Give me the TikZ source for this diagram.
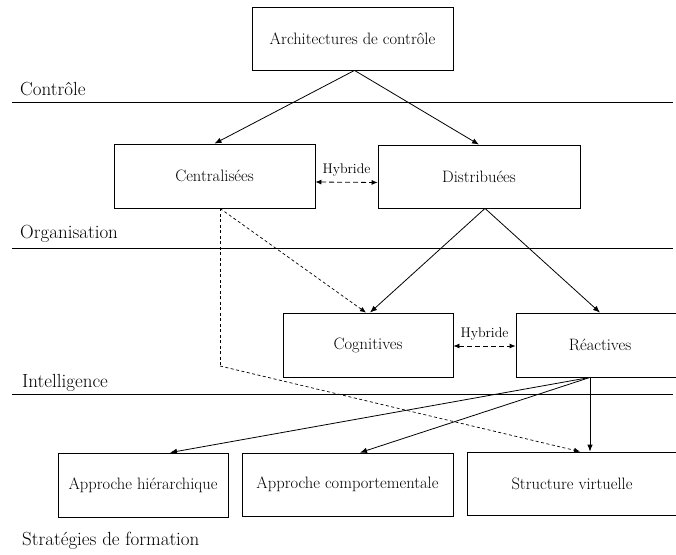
\documentclass[tikz,border=0pt]{standalone}
\usepackage{fontspec}
\usetikzlibrary{calc, arrows.meta}

\tikzset{
	boxnode/.style={draw, line width=0.8pt, shape=rectangle, inner sep=0pt, font=\fontsize{16.5}{19}\selectfont},
	levelname/.style={anchor=base west, inner sep=0pt, font=\fontsize{19}{22}\selectfont},
	hybridtag/.style={font=\fontsize{14}{16}\selectfont, inner sep=2pt},
	wire/.style={line width=0.8pt, -{Latex[length=7pt, width=5.5pt]}},
	hybridwire/.style={line width=0.8pt, dash pattern={on 5pt off 3pt}, {Latex[length=6pt, width=5pt]}-{Latex[length=6pt, width=5pt]}},
	thinwire/.style={line width=0.7pt, dash pattern={on 3pt off 2.5pt}}
}

\begin{document}
\begin{tikzpicture}[x=1pt, y=-1pt]
	\useasboundingbox (0, 0) rectangle (676, 554);
	% Paths, nodes and wires:
	\draw[line width=0.8pt] (12, 102) -- (673, 102);
	\draw[line width=0.8pt] (12, 248) -- (673, 248);
	\draw[line width=0.8pt] (12, 394) -- (673, 394);
	\node[levelname] (ctrl) at (20, 95){Contrôle};
	\node[levelname] (orga) at (20, 238){Organisation};
	\node[levelname] (intel) at (22, 387){Intelligence};
	\node[levelname] (strat) at (22, 545){Stratégies de formation};
	\node[boxnode, minimum width=201pt, minimum height=63pt] (arch) at (352.5, 38.5){Architectures de contrôle};
	\node[boxnode, minimum width=201pt, minimum height=64pt] (centr) at (214.5, 176){Centralisées};
	\node[boxnode, minimum width=202pt, minimum height=63pt] (distr) at (479, 176.5){Distribuées};
	\node[boxnode, minimum width=170pt, minimum height=64pt] (cogn) at (368, 345){Cognitives};
	\node[boxnode, minimum width=168pt, minimum height=64pt] (react) at (600, 345){Réactives};
	\node[boxnode, minimum width=170pt, minimum height=64pt] (hier) at (143, 485){Approche hiérarchique};
	\node[boxnode, minimum width=211pt, minimum height=63pt] (comp) at (347.5, 484.5){Approche comportementale};
	\node[boxnode, minimum width=210pt, minimum height=63pt] (virt) at (572, 483.5){Structure virtuelle};
	\coordinate (bend) at (220, 366);
	\draw[wire] ([xshift=2pt]arch.south) -- (centr.north);
	\draw[wire] ([xshift=2pt]arch.south) -- (distr.north);
	\draw[wire] ([xshift=6pt]distr.south) -- ([xshift=2pt]cogn.north);
	\draw[wire] ([xshift=6pt]distr.south) -- (react.north);
	\draw[hybridwire] ([yshift=-6pt]centr.east) -- node[hybridtag, above, yshift=3pt]{Hybride} ([yshift=-6pt]distr.west);
	\draw[hybridwire] ([yshift=-1pt]cogn.east) -- node[hybridtag, above, yshift=3pt]{Hybride} ([yshift=-1pt]react.west);
	\draw[thinwire, -{Latex[length=6pt, width=5pt]}] ([xshift=5.5pt]centr.south) -- ([xshift=-2pt]cogn.north);
	\draw[thinwire] ([xshift=5.5pt]centr.south) -- (bend);
	\draw[thinwire, -{Latex[length=6pt, width=5pt]}] (bend) -- ([xshift=8pt]virt.north);
	\draw[wire] ([xshift=-10pt]react.south) -- ([xshift=27pt]hier.north);
	\draw[wire] ([xshift=-10pt]react.south) -- ([xshift=12.5pt]comp.north);
	\draw[wire] ([xshift=-10pt]react.south) -- ([xshift=18pt]virt.north);
\end{tikzpicture}
\end{document}
